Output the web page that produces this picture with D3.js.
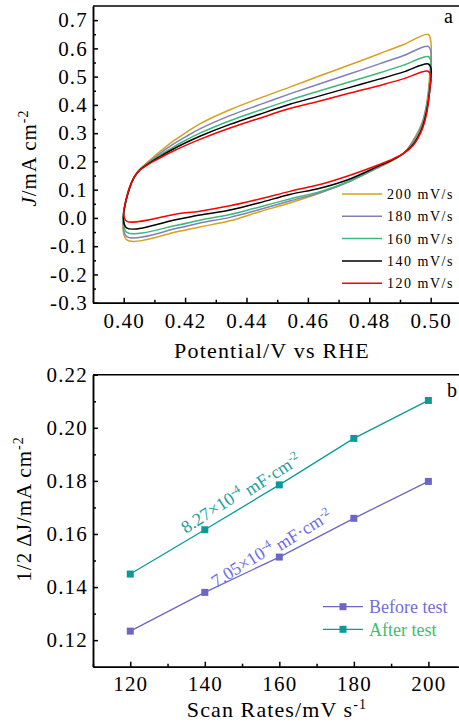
<!DOCTYPE html>
<html>
<head>
<meta charset="utf-8">
<script src="https://cdn.jsdelivr.net/npm/d3@7"></script>
<style>
  body { margin: 0; background: #fff; }
  svg { display: block; font-family: 'Liberation Serif', 'Times New Roman', serif; }
  .axis path, .axis line { stroke: #000; stroke-width: 1.5; }
  .axis text { font-size: 21px; letter-spacing: 1.2px; fill: #000; font-family: 'Liberation Serif', serif; }
</style>
</head>
<body>
<svg width="459" height="726"></svg>
<script>
// ---- panel a: CV loops (forward scan then reverse scan) ----
let potFwd = [0.4000, 0.4008, 0.4020, 0.4035, 0.4052, 0.4074, 0.4095, 0.4117, 0.4160, 0.4200,
              0.4248, 0.4346, 0.4443, 0.4541, 0.4639, 0.4737, 0.4835, 0.4910, 0.4992, 0.5001]
let potRev = [0.4998, 0.4987, 0.4971, 0.4943, 0.4911, 0.4867, 0.4835, 0.4737, 0.4639, 0.4541,
              0.4443, 0.4346, 0.4248, 0.4177, 0.4009]

let fwd200 = [0.020, 0.065, 0.112, 0.148, 0.172, 0.194, 0.214, 0.234, 0.271, 0.300, 0.333, 0.383, 0.424, 0.463, 0.503, 0.542, 0.582, 0.613, 0.649, 0.620]
let fwd180 = [0.020, 0.065, 0.110, 0.146, 0.170, 0.191, 0.209, 0.227, 0.260, 0.286, 0.315, 0.362, 0.401, 0.439, 0.475, 0.510, 0.546, 0.574, 0.607, 0.585]
let fwd160 = [0.020, 0.064, 0.108, 0.145, 0.169, 0.189, 0.205, 0.221, 0.250, 0.274, 0.300, 0.344, 0.381, 0.417, 0.450, 0.482, 0.514, 0.540, 0.571, 0.555]
let fwd140 = [0.020, 0.064, 0.108, 0.145, 0.169, 0.187, 0.202, 0.216, 0.243, 0.265, 0.289, 0.331, 0.367, 0.402, 0.432, 0.462, 0.492, 0.516, 0.545, 0.530]
let fwd120 = [0.027, 0.066, 0.110, 0.146, 0.169, 0.185, 0.199, 0.212, 0.236, 0.256, 0.278, 0.318, 0.353, 0.387, 0.414, 0.442, 0.469, 0.492, 0.519, 0.500]

let rev200 = [0.522, 0.405, 0.334, 0.275, 0.228, 0.198, 0.181, 0.130, 0.088, 0.053, 0.022, -0.010, -0.032, -0.048, -0.077]
let rev180 = [0.500, 0.398, 0.330, 0.270, 0.228, 0.199, 0.182, 0.130, 0.089, 0.060, 0.030, 0.002, -0.018, -0.036, -0.065]
let rev160 = [0.480, 0.388, 0.320, 0.264, 0.228, 0.200, 0.184, 0.131, 0.093, 0.067, 0.039, 0.012, -0.008, -0.025, -0.050]
let rev140 = [0.460, 0.378, 0.315, 0.260, 0.228, 0.201, 0.186, 0.138, 0.105, 0.083, 0.054, 0.028, 0.010, -0.005, -0.035]
let rev120 = [0.463, 0.369, 0.310, 0.257, 0.228, 0.204, 0.190, 0.151, 0.118, 0.094, 0.067, 0.043, 0.024, 0.015, -0.011]

let cvLabels = ['200 mV/s', '180 mV/s', '160 mV/s', '140 mV/s', '120 mV/s']
let cvColors = ['#d6a11e', '#8080b8', '#3cb878', '#000000', '#ff0000']
let cvFwd = [fwd200, fwd180, fwd160, fwd140, fwd120]
let cvRev = [rev200, rev180, rev160, rev140, rev120]

// ---- panel b: half current difference vs scan rate ----
let scanRates = [120, 140, 160, 180, 200]
let beforeTest = [0.1234, 0.1380, 0.1513, 0.1659, 0.1798]
let afterTest = [0.1449, 0.1616, 0.1785, 0.1960, 0.2103]

let svg = d3.select('svg')

let xA = d3.scaleLinear().domain([0.39, 0.509]).range([93, 458.3])
let yA = d3.scaleLinear().domain([-0.3, 0.75]).range([302.7, 6])

let xB = d3.scaleLinear().domain([110, 208]).range([93, 458.2])
let yB = d3.scaleLinear().domain([0.11, 0.22]).range([666.7, 374.7])

function drawAxes (x, y, xMajor, xMinor, yMajor, yMinor, xFmt, yFmt, xPad) {
  let bottom = y.range()[0]
  let left = x.range()[0]
  svg.append('g').attr('class', 'axis')
    .attr('transform', `translate(0, ${bottom})`)
    .call(d3.axisBottom(x).tickValues(xMinor).tickSize(-3).tickSizeOuter(0).tickFormat(''))
  svg.append('g').attr('class', 'axis')
    .attr('transform', `translate(0, ${bottom})`)
    .call(d3.axisBottom(x).tickValues(xMajor).tickSize(-5).tickSizeOuter(0).tickPadding(xPad).tickFormat(xFmt))
  svg.append('g').attr('class', 'axis')
    .attr('transform', `translate(${left}, 0)`)
    .call(d3.axisLeft(y).tickValues(yMinor).tickSize(-3).tickSizeOuter(0).tickFormat(''))
  svg.append('g').attr('class', 'axis')
    .attr('transform', `translate(${left}, 0)`)
    .call(d3.axisLeft(y).tickValues(yMajor).tickSize(-5).tickSizeOuter(0).tickPadding(5).tickFormat(yFmt))
  svg.append('line')
    .attr('x1', left).attr('x2', 459)
    .attr('y1', y.range()[1]).attr('y2', y.range()[1])
    .attr('stroke', '#000').attr('stroke-width', 1.5)
}

// panel a axes
drawAxes(xA, yA,
  [0.40, 0.42, 0.44, 0.46, 0.48, 0.50],
  [0.41, 0.43, 0.45, 0.47, 0.49],
  d3.range(-3, 8).map(d => d / 10),
  d3.range(-3, 7).map(d => d / 10 + 0.05),
  d3.format('.2f'), d => d3.format('.1f')(d).replace('−', '-'), 10)

let cvLine = d3.line()
  .x(d => xA(d[0]))
  .y(d => yA(d[1]))
  .curve(d3.curveCatmullRom.alpha(0.5))

cvFwd.forEach((fwd, i) => {
  let pts = potFwd.map((v, k) => [v, fwd[k]])
    .concat(potRev.map((v, k) => [v, cvRev[i][k]]))
  pts.push(pts[0])
  svg.append('path')
    .attr('d', cvLine(pts))
    .attr('fill', 'none')
    .attr('stroke', cvColors[i])
    .attr('stroke-width', 1.5)
    .attr('stroke-linejoin', 'round')
})

// legend a
cvLabels.forEach((lab, i) => {
  let ly = 194 + i * 22.3
  svg.append('line')
    .attr('x1', 342).attr('x2', 382).attr('y1', ly).attr('y2', ly)
    .attr('stroke', cvColors[i]).attr('stroke-width', 1.5)
  svg.append('text')
    .attr('x', 387).attr('y', ly).attr('dy', '0.35em')
    .style('font-size', '14px').style('letter-spacing', '1.5px')
    .text(lab)
})

svg.append('text')
  .attr('x', 444).attr('y', 23)
  .style('font-size', '20px')
  .text('a')

svg.append('text')
  .attr('x', 272).attr('y', 358)
  .style('text-anchor', 'middle')
  .style('font-size', '22px').style('letter-spacing', '1.2px')
  .text('Potential/V vs RHE')

let yLabA = svg.append('text')
  .attr('transform', 'translate(36, 158) rotate(-90)')
  .style('text-anchor', 'middle')
  .style('font-size', '21px').style('letter-spacing', '1px')
yLabA.append('tspan').style('font-style', 'italic').text('J')
yLabA.append('tspan').text('/mA  cm')
yLabA.append('tspan').attr('dy', '-0.55em').style('font-size', '14px').text('-2')

// panel b axes
drawAxes(xB, yB,
  [120, 140, 160, 180, 200],
  [110, 130, 150, 170, 190],
  [0.12, 0.14, 0.16, 0.18, 0.20, 0.22],
  [0.13, 0.15, 0.17, 0.19, 0.21],
  d3.format('d'), d3.format('.2f'), 9)

let rateLine = d3.line().x(d => xB(d[0])).y(d => yB(d[1]))
let seriesB = [
  { name: 'Before test', vals: beforeTest, color: '#6c66c6', textColor: '#6f6fd6' },
  { name: 'After test', vals: afterTest, color: '#0a9a9a', textColor: '#3dbf6a' }
]

seriesB.forEach(s => {
  let pts = scanRates.map((r, k) => [r, s.vals[k]])
  svg.append('path')
    .attr('d', rateLine(pts))
    .attr('fill', 'none')
    .attr('stroke', s.color)
    .attr('stroke-width', 1.3)
  svg.selectAll(null)
    .data(pts)
    .enter()
    .append('rect')
      .attr('x', d => xB(d[0]) - 3.5)
      .attr('y', d => yB(d[1]) - 3.5)
      .attr('width', 7)
      .attr('height', 7)
      .attr('fill', s.color)
})

// slope annotations
function slopeLabel (x, y, angle, color, mant) {
  let t = svg.append('text')
    .attr('transform', `translate(${x}, ${y}) rotate(${angle})`)
    .style('font-size', '18px')
    .attr('fill', color)
  t.append('tspan').text(mant + '×10')
  t.append('tspan').attr('dy', '-0.5em').style('font-size', '12px').text('-4')
  t.append('tspan').attr('dy', '0.5em').text(' mF·cm')
  t.append('tspan').attr('dy', '-0.5em').style('font-size', '12px').text('-2')
}
slopeLabel(186, 534, -33, '#1a9f9f', '8.27')
slopeLabel(216, 588, -32, '#6b6bea', '7.05')

// legend b
seriesB.forEach((s, i) => {
  let ly = 606.7 + i * 22.6
  svg.append('line')
    .attr('x1', 323).attr('x2', 363).attr('y1', ly).attr('y2', ly)
    .attr('stroke', s.color).attr('stroke-width', 1.3)
  svg.append('rect')
    .attr('x', 339.5).attr('y', ly - 3.5).attr('width', 7).attr('height', 7)
    .attr('fill', s.color)
  svg.append('text')
    .attr('x', 369).attr('y', ly).attr('dy', '0.35em')
    .style('font-size', '18px')
    .attr('fill', s.textColor)
    .text(s.name)
})

svg.append('text')
  .attr('x', 447).attr('y', 397)
  .style('font-size', '20px')
  .text('b')

let xLabB = svg.append('text')
  .attr('x', 277).attr('y', 717)
  .style('text-anchor', 'middle')
  .style('font-size', '22px').style('letter-spacing', '1.1px')
xLabB.append('tspan').text('Scan Rates/mV  s')
xLabB.append('tspan').attr('dy', '-0.55em').style('font-size', '14px').text('-1')

let yLabB = svg.append('text')
  .attr('transform', 'translate(31, 509) rotate(-90)')
  .style('text-anchor', 'middle')
  .style('font-size', '21px').style('letter-spacing', '1px')
yLabB.append('tspan').text('1/2 ΔJ/mA cm')
yLabB.append('tspan').attr('dy', '-0.55em').style('font-size', '14px').text('-2')
</script>
</body>
</html>
